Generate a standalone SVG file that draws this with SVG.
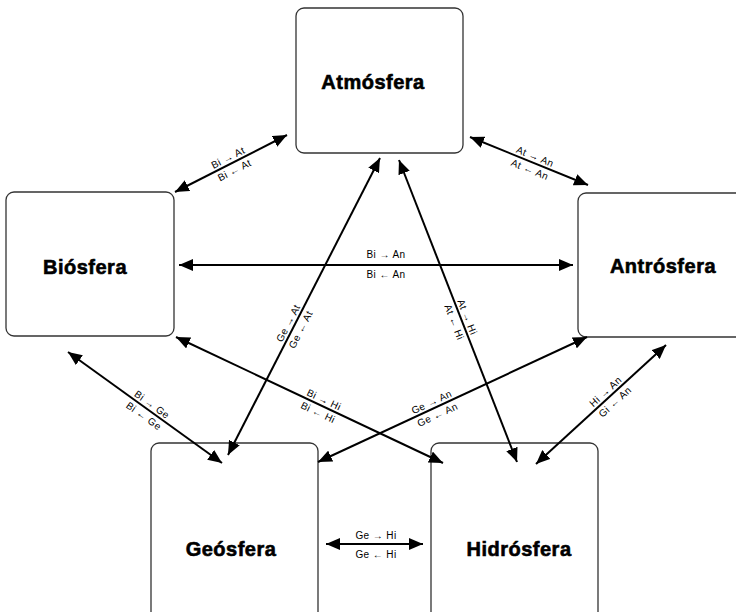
<svg xmlns="http://www.w3.org/2000/svg" width="736" height="612" viewBox="0 0 736 612">
<style>
.box{fill:#fff;stroke:#333;stroke-width:1.3}
.nl{font-family:"Liberation Sans",Arial,sans-serif;font-weight:bold;font-size:20px;letter-spacing:0.5px;text-anchor:middle;fill:#000;stroke:#000;stroke-width:0.6}
.ln{stroke:#000;stroke-width:2;fill:none;marker-start:url(#ah);marker-end:url(#ah)}
.lb{font-family:"Liberation Sans",Arial,sans-serif;font-size:10px;letter-spacing:0.4px;text-anchor:middle;fill:#000}
</style>
<defs>
<marker id="ah" markerUnits="userSpaceOnUse" viewBox="0 0 14 12" refX="14" refY="6" markerWidth="14" markerHeight="12" orient="auto-start-reverse">
<path d="M0,0 L14,6 L0,12 Z" fill="#000"/>
</marker>
</defs>
<rect width="736" height="612" fill="#fff"/>
<g id="atmosfera"><rect class="box" x="296" y="8" width="167" height="145" rx="8"/><text class="nl" x="373" y="89">Atmósfera</text></g>
<g id="biosfera"><rect class="box" x="6" y="192" width="168" height="144" rx="8"/><text class="nl" x="85" y="274">Biósfera</text></g>
<g id="antrosfera"><rect class="box" x="578" y="193" width="168" height="144" rx="8"/><text class="nl" x="663" y="273">Antrósfera</text></g>
<g id="geosfera"><rect class="box" x="151" y="443" width="167" height="180" rx="8"/><text class="nl" x="231" y="556">Geósfera</text></g>
<g id="hidrosfera"><rect class="box" x="431" y="443" width="167" height="180" rx="8"/><text class="nl" x="519" y="556">Hidrósfera</text></g>
<g id="connectors">
<line class="ln" x1="175" y1="192" x2="287" y2="135"/>
<line class="ln" x1="470" y1="137" x2="588" y2="185"/>
<line class="ln" x1="179" y1="265" x2="573" y2="265"/>
<line class="ln" x1="228" y1="455" x2="380" y2="158"/>
<line class="ln" x1="399" y1="160" x2="517" y2="462"/>
<line class="ln" x1="68" y1="352" x2="222" y2="463"/>
<line class="ln" x1="176" y1="337" x2="443" y2="463"/>
<line class="ln" x1="318" y1="462" x2="587" y2="337"/>
<line class="ln" x1="536" y1="464" x2="666" y2="345"/>
<line class="ln" x1="326" y1="544" x2="423" y2="544"/>
</g>
<g id="labels">
<g transform="translate(231,163.5) rotate(-27)"><text class="lb" x="0" y="-3">Bi → At</text><text class="lb" x="0" y="11">Bi ← At</text></g>
<g transform="translate(529,161) rotate(22.1)"><text class="lb" x="4" y="-3">At → An</text><text class="lb" x="4" y="11">At ← An</text></g>
<g transform="translate(386,265)"><text class="lb" x="0" y="-7">Bi → An</text><text class="lb" x="0" y="13">Bi ← An</text></g>
<g transform="translate(304,306.5) rotate(-62.9)"><text class="lb" x="-22" y="-3">Ge → At</text><text class="lb" x="-22" y="11">Ge ← At</text></g>
<g transform="translate(458,311) rotate(68.7)"><text class="lb" x="9" y="-3">At → Hi</text><text class="lb" x="9" y="11">At ← Hi</text></g>
<g transform="translate(145,407.5) rotate(35.8)"><text class="lb" x="4" y="-3">Bi → Ge</text><text class="lb" x="4" y="11">Bi ← Ge</text></g>
<g transform="translate(309.5,400) rotate(25.3)"><text class="lb" x="13" y="-3">Bi → Hi</text><text class="lb" x="13" y="11">Bi ← Hi</text></g>
<g transform="translate(452.5,399.5) rotate(-24.9)"><text class="lb" x="-20" y="-3">Ge → An</text><text class="lb" x="-20" y="11">Ge ← An</text></g>
<g transform="translate(601,404.5) rotate(-42.5)"><text class="lb" x="12" y="-3">Hi → An</text><text class="lb" x="12" y="11">Gi ← An</text></g>
<g transform="translate(376,544)"><text class="lb" x="0" y="-5">Ge → Hi</text><text class="lb" x="0" y="14">Ge ← Hi</text></g>
</g>
</svg>
